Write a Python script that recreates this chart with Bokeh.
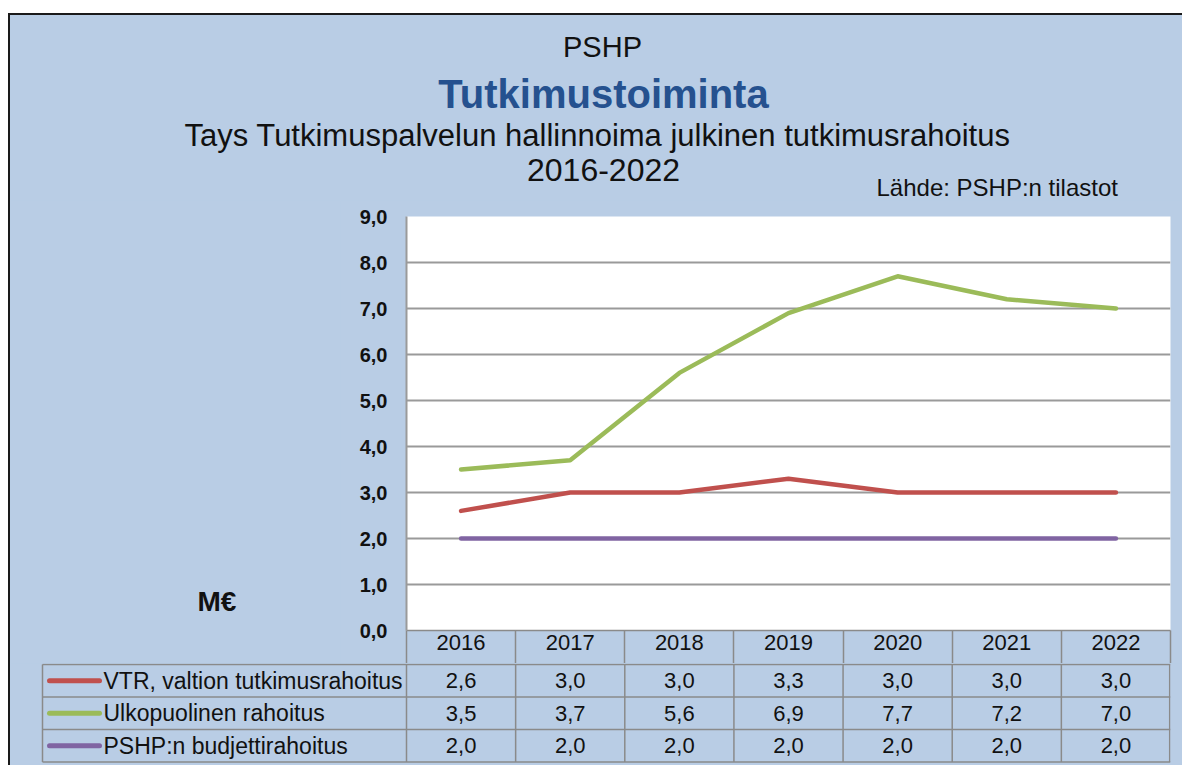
from bokeh.plotting import figure
from bokeh.models import Range1d, FixedTicker, CustomJSTickFormatter, Spacer
from bokeh.layouts import column, row
from bokeh.core.properties import value
from bokeh.embed import file_html
from bokeh.resources import INLINE

# ---------------- data ----------------
years = ["2016", "2017", "2018", "2019", "2020", "2021", "2022"]
vtr = [2.6, 3.0, 3.0, 3.3, 3.0, 3.0, 3.0]
ulkopuolinen = [3.5, 3.7, 5.6, 6.9, 7.7, 7.2, 7.0]
budjetti = [2.0, 2.0, 2.0, 2.0, 2.0, 2.0, 2.0]
series_names = ["VTR, valtion tutkimusrahoitus", "Ulkopuolinen rahoitus", "PSHP:n budjettirahoitus"]
series_values = [vtr, ulkopuolinen, budjetti]
series_colors = ["#c0504d", "#9bbb59", "#8064a2"]
y_ticks = [0, 1, 2, 3, 4, 5, 6, 7, 8, 9]

title_top = "PSHP"
title_main = "Tutkimustoiminta"
title_sub = "Tays Tutkimuspalvelun hallinnoima julkinen tutkimusrahoitus"
title_years = "2016-2022"
source_text = "Lähde: PSHP:n tilastot"
unit_text = "M€"

# ---------------- style ----------------
BG = "#b9cde5"
FONT = "Liberation Sans"
TXT = "#111111"
GRID = "#9a9a9a"
TLINE = "#8a8a8a"

n = len(years)
xs = list(range(n))
W = 1172                      # inner width (page x 10..1182)
L = 30                        # shared left border of the column (frame starts at page x 40)
R = 12                        # shared right border (frame ends at page x 1170)
T1, B1 = 16, 33               # shared top / bottom border of the chart row


def blank(width, height, fx0, fx1, fy0, fy1, left, right, top, bottom):
    """figure whose frame spans page pixels fx0..fx1 / fy0..fy1"""
    f = figure(width=width, height=height, output_backend="svg", toolbar_location=None,
               x_range=Range1d(fx0, fx1), y_range=Range1d(fy1, fy0),
               x_axis_location=None, y_axis_location=None,
               min_border_left=left, min_border_right=right,
               min_border_top=top, min_border_bottom=bottom)
    f.background_fill_color = BG
    f.border_fill_color = BG
    f.outline_line_color = None
    f.grid.visible = False
    return f


def txt(f, s, x, y, size, align="center", bold=False, color=TXT):
    f.text(x=[x], y=[y], text=[s], text_font=value(FONT), text_font_size=size,
           text_align=align, text_baseline="middle", text_color=color,
           text_font_style="bold" if bold else "normal")


# ---------------- titles (page y 15..200) ----------------
p0 = blank(W, 185, 10 + L, 1182 - R, 15, 200, L, R, 0, 0)
txt(p0, title_top, 602, 46, "29px")
txt(p0, title_main, 603, 93, "40px", bold=True, color="#25518f")
txt(p0, title_sub, 597, 135, "31px")
txt(p0, title_years, 603, 169, "32px")
txt(p0, source_text, 876, 187, "24px", align="left")

# ---------------- unit label column (page x 10..340, y 200..663) ----------------
pm = blank(330, 463, 10 + L, 340, 200 + T1, 663 - B1, L, 0, T1, B1)
txt(pm, unit_text, 197, 601, "28px", align="left", bold=True)

# ---------------- chart (page x 340..1182, y 200..663) ----------------
x_lo, x_hi = -0.5, n - 0.5
p1 = figure(width=842, height=463, output_backend="svg", toolbar_location=None,
            x_range=Range1d(x_lo, x_hi), y_range=Range1d(0, 9),
            x_axis_location="below", y_axis_location="left",
            min_border_left=66, min_border_right=R, min_border_top=T1, min_border_bottom=B1)
p1.background_fill_color = "white"
p1.border_fill_color = BG
p1.outline_line_color = None
p1.xgrid.visible = False
p1.ygrid.ticker = FixedTicker(ticks=y_ticks)
p1.ygrid.grid_line_color = GRID
p1.ygrid.grid_line_width = 2

ay = p1.yaxis[0]
ay.ticker = FixedTicker(ticks=y_ticks)
ay.formatter = CustomJSTickFormatter(code="return tick.toFixed(1).replace('.', ',');")
ay.major_label_text_font = FONT
ay.major_label_text_font_style = "bold"
ay.major_label_text_font_size = "20px"
ay.major_label_text_color = TXT
ay.major_label_standoff = 19
ay.major_tick_in = 0
ay.major_tick_out = 0
ay.minor_tick_in = 0
ay.minor_tick_out = 0
ay.axis_line_color = GRID
ay.axis_line_width = 2

# x axis = header row of the data table (years, cell separators as minor ticks)
ax = p1.xaxis[0]
ax.ticker = FixedTicker(ticks=xs, minor_ticks=[k - 0.5 for k in range(n + 1)])
ax.formatter = CustomJSTickFormatter(args=dict(labels=years),
                                     code="const i = Math.round(tick); return labels[i] ?? '';")
ax.major_label_text_font = FONT
ax.major_label_text_font_size = "22px"
ax.major_label_text_color = TXT
ax.major_label_standoff = -29
ax.major_tick_in = 0
ax.major_tick_out = 0
ax.minor_tick_in = 0
ax.minor_tick_out = B1
ax.minor_tick_line_color = TLINE
ax.minor_tick_line_width = 1.5
ax.axis_line_color = TLINE
ax.axis_line_width = 1.5

for vals, col in zip(series_values, series_colors):
    p1.line(xs, vals, line_color=col, line_width=4.5, line_cap="round", line_join="round")

# ---------------- table body (page x 10..1182, y 663..765) ----------------
ppu = (842 - 66 - R) / n
row_h = 32.5
rows = len(series_names)
x2_lo = x_lo - (406 - (10 + L)) / ppu
x2_hi = x_hi
y2_hi = rows + 1 / row_h
y2_lo = y2_hi - 102 / row_h
tab_left = x_lo - (406 - 42) / ppu
edge = 0.8 / ppu

p2 = figure(width=W, height=102, output_backend="svg", toolbar_location=None,
            x_range=Range1d(x2_lo, x2_hi), y_range=Range1d(y2_lo, y2_hi),
            x_axis_location=None, y_axis_location=None,
            min_border_left=L, min_border_right=R, min_border_top=0, min_border_bottom=0)
p2.background_fill_color = BG
p2.border_fill_color = BG
p2.outline_line_color = None
p2.grid.visible = False

vx0, vy0, vx1, vy1 = [], [], [], []
for k in range(n + 1):
    xv = x_lo + k if k < n else x_hi - edge
    vx0.append(xv); vx1.append(xv); vy0.append(0); vy1.append(rows)
vx0.append(tab_left); vx1.append(tab_left); vy0.append(0); vy1.append(rows)
for r in range(rows + 1):
    vx0.append(tab_left); vx1.append(x_hi); vy0.append(r); vy1.append(r)
p2.segment(x0=vx0, y0=vy0, x1=vx1, y1=vy1, line_color=TLINE, line_width=1.5)

for r, (name, vals, col) in enumerate(zip(series_names, series_values, series_colors)):
    yc = rows - r - 0.5
    p2.text(x=xs, y=[yc] * n, text=[f"{v:.1f}".replace(".", ",") for v in vals],
            text_font=value(FONT), text_font_size="22px", text_align="center",
            text_baseline="middle", text_color=TXT)
    p2.segment(x0=[tab_left + 7 / ppu], y0=[yc], x1=[tab_left + 57 / ppu], y1=[yc],
               line_color=col, line_width=5, line_cap="round")
    p2.text(x=[tab_left + 61 / ppu], y=[yc], text=[name], text_font=value(FONT),
            text_font_size="23px", text_align="left", text_baseline="middle", text_color=TXT)

inner = column(p0, row(pm, p1, spacing=0, styles={"background-color": BG}), p2, spacing=0,
               styles={"border-left": "2px solid #1a1a1a", "border-top": "2px solid #1a1a1a",
                       "background-color": BG})
layout = column(Spacer(width=8, height=13),
                row(Spacer(width=8, height=10), inner, spacing=0), spacing=0)

open("out.html", "w").write(file_html(layout, INLINE))
